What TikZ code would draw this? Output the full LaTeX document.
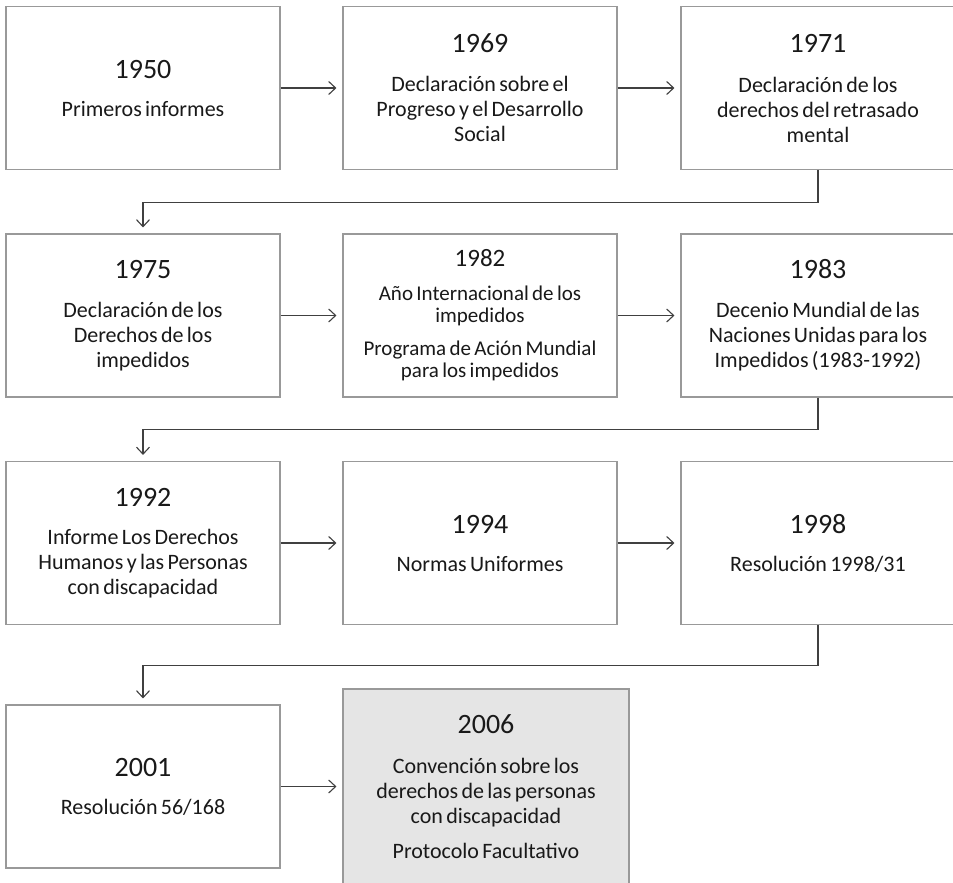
\documentclass[tikz,border=0pt]{standalone}
\usepackage{fontspec}
\setmainfont{Carlito}
\usetikzlibrary{arrows.meta}
\setlength{\parindent}{0pt}
\newcommand\yrfont{\fontsize{28}{34}\selectfont}
\newcommand\bdfont{\fontsize{22}{25}\selectfont}
\newcommand\smfont{\fontsize{21}{22}\selectfont}
\begin{document}
\begin{tikzpicture}[x=1pt,y=-1pt,
  box/.style={draw=black!40, line width=1.1pt, fill=white, minimum width=274pt,
    minimum height=163pt, text width=272pt, align=center, inner sep=0pt, text=black!90},
  hl/.style={box, fill=black!10, minimum width=286pt, minimum height=196pt},
  arr/.style={draw=black!75, line width=1.1pt, -{Straight Barb[length=7pt,width=13pt]}}]
\clip (0,0) rectangle (953,883);
\fill[white] (0,0) rectangle (953,883);

% row 1
\node[box] (b1950) at (143,88) {\yrfont 1950\par\vspace{13pt}\bdfont Primeros informes\par};
\node[box] (b1969) at (480,88) {\yrfont 1969\par\vspace{14pt}\bdfont Declaración sobre el\\Progreso y el Desarrollo\\Social\par};
\node[box] (b1971) at (818,88) {\yrfont 1971\par\vspace{15pt}\bdfont Declaración de los\\derechos del retrasado\\mental\par};

% row 2
\node[box] (b1975) at (143,315.5) {\yrfont 1975\par\vspace{14pt}\bdfont Declaración de los\\Derechos de los\\impedidos\par};
\node[box] (b1982) at (480,315.5) {\fontsize{25}{30}\selectfont 1982\par\vspace{12pt}\smfont Año Internacional de los\\impedidos\par\vspace{11pt}Programa de Ación Mundial\\para los impedidos\par};
\node[box] (b1983) at (818,315.5) {\yrfont 1983\par\vspace{14pt}\bdfont Decenio Mundial de las\\Naciones Unidas para los\\Impedidos (1983-1992)\par};

% row 3
\node[box] (b1992) at (143,543) {\yrfont 1992\par\vspace{13pt}\bdfont Informe Los Derechos\\Humanos y las Personas\\con discapacidad\par};
\node[box] (b1994) at (480,543) {\yrfont 1994\par\vspace{13pt}\bdfont Normas Uniformes\par};
\node[box] (b1998) at (818,543) {\yrfont 1998\par\vspace{13pt}\bdfont Resolución 1998/31\par};

% row 4
\node[box] (b2001) at (143,786.5) {\yrfont 2001\par\vspace{13pt}\bdfont Resolución 56/168\par};
\node[hl] (b2006) at (486,787) {\yrfont 2006\par\vspace{15pt}\bdfont Convención sobre los\\derechos de las personas\\con discapacidad\par\vspace{10pt}Protocolo Facultativo\par};

% horizontal arrows
\draw[arr] (b1950.east) -- ([xshift=-6pt]b1969.west);
\draw[arr] (b1969.east) -- ([xshift=-6pt]b1971.west);
\draw[arr] (b1975.east) -- ([xshift=-6pt]b1982.west);
\draw[arr] (b1982.east) -- ([xshift=-6pt]b1983.west);
\draw[arr] (b1992.east) -- ([xshift=-6pt]b1994.west);
\draw[arr] (b1994.east) -- ([xshift=-6pt]b1998.west);
\draw[arr] (b2001.east) -- ([xshift=-6pt]b2001.east -| b2006.west);

% row-to-row connectors
\draw[arr] (b1971.south) -- ++(0,32) -| ([yshift=6pt]b1975.north);
\draw[arr] (b1983.south) -- ++(0,32) -| ([yshift=6pt]b1992.north);
\draw[arr] (b1998.south) -- ++(0,40) -| ([yshift=6pt]b2001.north);
\end{tikzpicture}
\end{document}
